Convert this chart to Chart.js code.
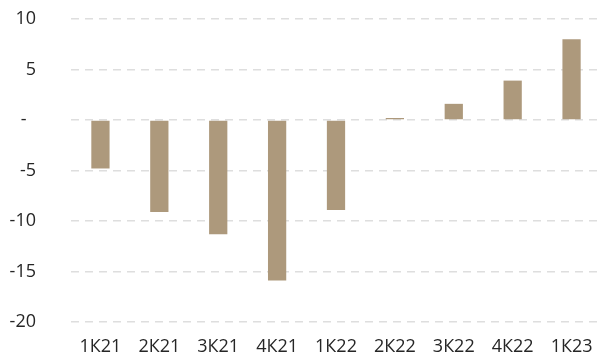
<!DOCTYPE html>
<html>
<head>
<meta charset="utf-8">
<script src="https://cdn.jsdelivr.net/npm/chart.js@4/dist/chart.umd.min.js"></script>
<style>
    html, body { margin: 0; padding: 0; background: #fff; }
    #wrap { width: 608px; height: 360px; position: relative; }
</style>
</head>
<body>
<div id="wrap"><canvas id="chart"></canvas></div>
<script>
// Dados
const quarters = ['1К21', '2К21', '3К21', '4К21', '1К22', '2К22', '3К22', '4К22', '1К23'];
const values = [-4.8, -9.1, -11.3, -15.9, -8.9, 0.2, 1.6, 3.9, 8.0];
const yTicks = [-20, -15, -10, -5, 0, 5, 10];

const ctx = document.getElementById('chart').getContext('2d');
new Chart(ctx, {
    type: 'bar',
    data: {
        labels: quarters,
        datasets: [{
            data: values,
            backgroundColor: '#ad997c',
            borderWidth: 0,
            categoryPercentage: 1,
            barPercentage: 0.31
        }]
    },
    options: {
        responsive: true,
        maintainAspectRatio: false,
        animation: false,
        layout: { padding: { top: 19, right: 7, bottom: 0, left: 0 } },
        plugins: { legend: { display: false }, tooltip: { enabled: false } },
        scales: {
            x: {
                grid: { display: false, drawTicks: false },
                border: { display: false },
                afterFit: s => { s.height = 38; },
                ticks: {
                    color: '#262626',
                    font: { family: 'Open Sans', size: 18 },
                    padding: 14,
                    maxRotation: 0
                }
            },
            y: {
                min: yTicks[0],
                max: yTicks[yTicks.length - 1],
                afterBuildTicks: axis => { axis.ticks = yTicks.map(v => ({ value: v })); },
                afterFit: s => { s.width = 71; s.paddingTop = 0; s.paddingBottom = 0; },
                grid: { color: '#dedede', lineWidth: 1.5, drawTicks: false },
                border: { display: false, dash: [8, 6] },
                ticks: {
                    color: '#262626',
                    font: { family: 'Open Sans', size: 18 },
                    padding: 35,
                    callback: v => v === 0 ? '-  ' : v
                }
            }
        }
    }
});
</script>
</body>
</html>
